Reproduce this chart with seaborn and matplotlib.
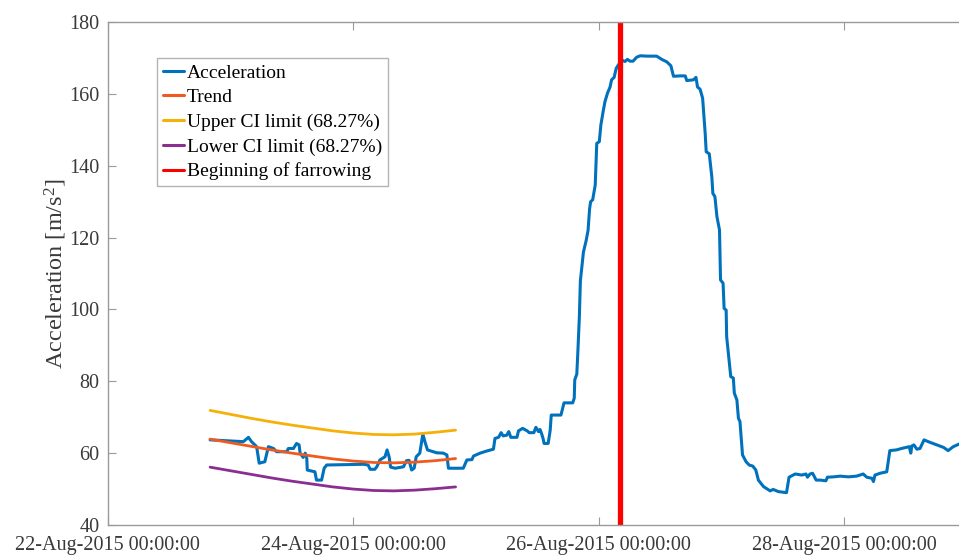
import numpy as np
import pandas as pd
import matplotlib
matplotlib.use("Agg")
import matplotlib.pyplot as plt
import matplotlib.dates as mdates
import seaborn as sns

# ---------------- data (hours since 22-Aug-2015 00:00:00) ----------------
start_time = "2015-08-22 00:00:00"

acc_hours = [20.0, 26.5, 27.5, 28.1, 29.1, 29.6, 30.7, 31.4, 32.4, 33.0, 35.0, 35.3,
             36.3, 36.9, 37.4, 37.6, 38.2, 38.6, 38.9, 39.0, 40.5, 40.8, 41.8, 42.3,
             42.8, 50.0, 50.9, 51.3, 52.2, 52.6, 53.2, 54.2, 54.6, 55.0, 55.3, 56.2,
             57.8, 58.4, 58.9, 59.4, 59.9, 60.3, 61.0, 61.6, 62.0, 62.5, 64.3, 65.6,
             66.3, 66.6, 69.5, 70.2, 71.2, 71.5, 72.8, 74.1, 75.4, 75.7, 76.4, 76.9,
             77.3, 78.0, 78.4, 78.8, 80.0, 80.3, 81.1, 82.0, 82.4, 83.3, 83.7, 84.2,
             84.5, 84.8, 85.1, 85.3, 86.1, 86.5, 86.7, 88.6, 89.2, 90.9, 91.2, 91.3,
             91.7, 91.9, 92.2, 92.4, 92.7, 93.0, 93.5, 93.9, 94.2, 94.4, 94.8, 95.3,
             95.6, 96.1, 96.4, 96.9, 97.2, 97.7, 98.2, 98.5, 99.0, 99.4, 99.8, 100.5,
             101.1, 101.6, 102.1, 102.7, 103.4, 104.1, 105.4, 107.3, 108.3, 109.3,
             110.1, 110.6, 111.9, 112.9, 113.2, 114.5, 115.0, 115.3, 115.8, 116.3,
             116.8, 117.0, 117.6, 118.1, 118.3, 118.7, 119.1, 119.6, 119.8, 120.3,
             120.5, 120.9, 121.0, 121.8, 122.3, 122.5, 123.0, 123.3, 123.6, 124.1,
             124.8, 125.4, 126.1, 126.7, 127.2, 128.2, 129.5, 130.1, 131.1, 132.7,
             133.2, 134.4, 135.7, 136.5, 136.8, 137.3, 137.8, 138.5, 139.3, 140.4,
             140.7, 141.9, 143.2, 144.8, 146.4, 147.7, 148.4, 149.4, 149.7, 150.0,
             151.0, 152.3, 152.9, 154.2, 155.2, 156.7, 157.0, 157.2, 157.6, 158.2,
             158.8, 159.6, 160.4, 162.1, 163.4, 164.3, 165.3, 166.4, 167.5]
acc_values = [63.7, 63.2, 64.4, 63.2, 61.8, 57.2, 57.6, 61.8, 61.3, 60.4, 60.4, 61.3,
              61.3, 62.7, 62.3, 60.0, 58.8, 60.0, 58.6, 55.3, 54.8, 52.5, 52.5, 55.8,
              56.7, 56.9, 56.7, 55.5, 55.5, 56.2, 58.1, 59.0, 60.9, 59.0, 56.1, 55.8,
              56.2, 57.9, 58.0, 55.3, 55.8, 59.0, 60.0, 65.3, 63.2, 60.9, 60.1, 60.0,
              59.5, 55.8, 55.8, 58.1, 58.2, 59.2, 60.0, 60.6, 61.1, 64.1, 64.4, 65.7,
              64.8, 65.0, 66.0, 64.4, 64.4, 66.2, 66.9, 66.2, 65.7, 65.7, 67.2, 66.0,
              66.6, 65.5, 64.1, 62.7, 62.7, 66.4, 70.6, 70.6, 74.0, 74.0, 75.3, 80.4,
              82.0, 88.0, 98.0, 108.0, 112.0, 116.0, 119.0, 122.0, 128.0, 130.0, 130.5, 134.6,
              146.2, 146.7, 151.3, 155.5, 157.8, 160.2, 161.9, 163.9, 164.6, 167.1, 168.0, 169.4,
              169.0, 169.6, 169.1, 169.1, 170.2, 170.6, 170.5, 170.5, 169.6, 168.9,
              167.8, 164.9, 165.0, 165.0, 163.7, 163.9, 164.6, 161.9, 161.3, 158.8,
              149.0, 143.9, 143.3, 136.9, 132.3, 131.4, 125.8, 122.1, 108.2, 107.3,
              100.3, 99.8, 92.4, 81.3, 80.9, 76.7, 74.8, 69.7, 68.8, 59.5,
              57.6, 56.7, 56.4, 55.3, 52.5, 50.7, 49.5, 49.9, 49.3, 49.0,
              53.3, 54.2, 53.9, 54.2, 53.3, 54.2, 54.4, 52.5, 52.5, 52.3,
              53.3, 53.4, 53.6, 53.4, 53.6, 54.2, 53.3, 53.0, 52.1, 53.9,
              54.4, 54.8, 60.7, 60.9, 61.3, 61.8, 60.0, 62.0, 62.3, 61.1,
              61.3, 63.7, 63.2, 62.3, 61.6, 60.7, 61.8, 62.5, 62.3]

trend_hours = [20, 24, 28, 32, 36, 40, 44, 48, 52, 56, 60, 64, 68]
trend_values = [63.9, 62.9, 61.9, 60.9, 60.0, 59.2, 58.4, 57.8, 57.4, 57.3, 57.5, 57.9, 58.5]
upper_values = [71.9, 70.8, 69.7, 68.7, 67.8, 67.0, 66.2, 65.6, 65.2, 65.1, 65.3, 65.8, 66.4]
lower_values = [56.1, 55.1, 54.1, 53.1, 52.2, 51.4, 50.6, 50.0, 49.6, 49.5, 49.7, 50.1, 50.6]

farrowing_hours = 100.1

x_tick_days = [0, 2, 4, 6]
y_ticks = [40, 60, 80, 100, 120, 140, 160, 180]

labels = ["Acceleration", "Trend", "Upper CI limit (68.27%)",
          "Lower CI limit (68.27%)", "Beginning of farrowing"]
colors = ["#0072BD", "#F05A1E", "#F5B10A", "#8A2F90", "#FF0000"]

# ---------------- build frames ----------------
t0 = pd.Timestamp(start_time)
acc_df = pd.DataFrame({"time": t0 + pd.to_timedelta(acc_hours, unit="h"),
                       "value": acc_values})
trend_time = t0 + pd.to_timedelta(trend_hours, unit="h")
trend_df = pd.DataFrame({"time": trend_time, "value": trend_values})
upper_df = pd.DataFrame({"time": trend_time, "value": upper_values})
lower_df = pd.DataFrame({"time": trend_time, "value": lower_values})

# ---------------- style ----------------
sns.set_theme(style="white")
plt.rcParams["font.family"] = ["Liberation Serif", "DejaVu Serif"]
plt.rcParams["mathtext.fontset"] = "custom"
plt.rcParams["mathtext.rm"] = "Liberation Serif"
plt.rcParams["mathtext.it"] = "Liberation Serif:italic"

fig = plt.figure(figsize=(9.59, 5.57), dpi=100)
ax_left = 107.8 / 959
ax_bottom = 1 - 525 / 557
ax_height = (525 - 22) / 557
xmax_days = 7.1
ax_width = (xmax_days * 122.75) / 959
ax = fig.add_axes([ax_left, ax_bottom, ax_width, ax_height])

sns.lineplot(data=acc_df, x="time", y="value", ax=ax, color=colors[0], lw=2.2, label=labels[0])
sns.lineplot(data=trend_df, x="time", y="value", ax=ax, color=colors[1], lw=2.0, label=labels[1])
sns.lineplot(data=upper_df, x="time", y="value", ax=ax, color=colors[2], lw=2.0, label=labels[2])
sns.lineplot(data=lower_df, x="time", y="value", ax=ax, color=colors[3], lw=2.0, label=labels[3])
ax.axvline(t0 + pd.Timedelta(hours=farrowing_hours), color=colors[4], lw=3.8, label=labels[4])

ax.set_xlim(t0, t0 + pd.Timedelta(days=xmax_days))
ax.set_ylim(40, 180)
ax.set_xticks([t0 + pd.Timedelta(days=d) for d in x_tick_days])
ax.xaxis.set_major_formatter(mdates.DateFormatter("%d-%b-%Y %H:%M:%S"))
ax.set_yticks(y_ticks)

spine_col = "#9a9a9a"
for s in ax.spines.values():
    s.set_visible(True)
    s.set_color(spine_col)
    s.set_linewidth(1.0)
ax.tick_params(axis="both", direction="in", length=6, width=0.8, color=spine_col,
               labelsize=14.5, labelcolor="#3a3a3a", top=True, right=True,
               bottom=True, left=True)
ax.tick_params(axis="x", pad=8)
ax.tick_params(axis="y", pad=6)

ax.set_xlabel("")
ax.set_ylabel("Acceleration [m/s$^{2}$]", fontsize=17.5, color="#3a3a3a", labelpad=0)

leg = ax.legend(loc="upper left", bbox_to_anchor=(0.0565, 0.928), borderaxespad=0,
                fontsize=14.0, frameon=True, fancybox=False, handlelength=1.1,
                handletextpad=0.15, labelspacing=0.36, borderpad=0.3)
leg.get_frame().set_edgecolor("#a0a0a0")
leg.get_frame().set_linewidth(1.0)
for line in leg.get_lines():
    line.set_linewidth(2.2)
for txt in leg.get_texts():
    txt.set_color("black")

fig.savefig("out.png", dpi=100)
